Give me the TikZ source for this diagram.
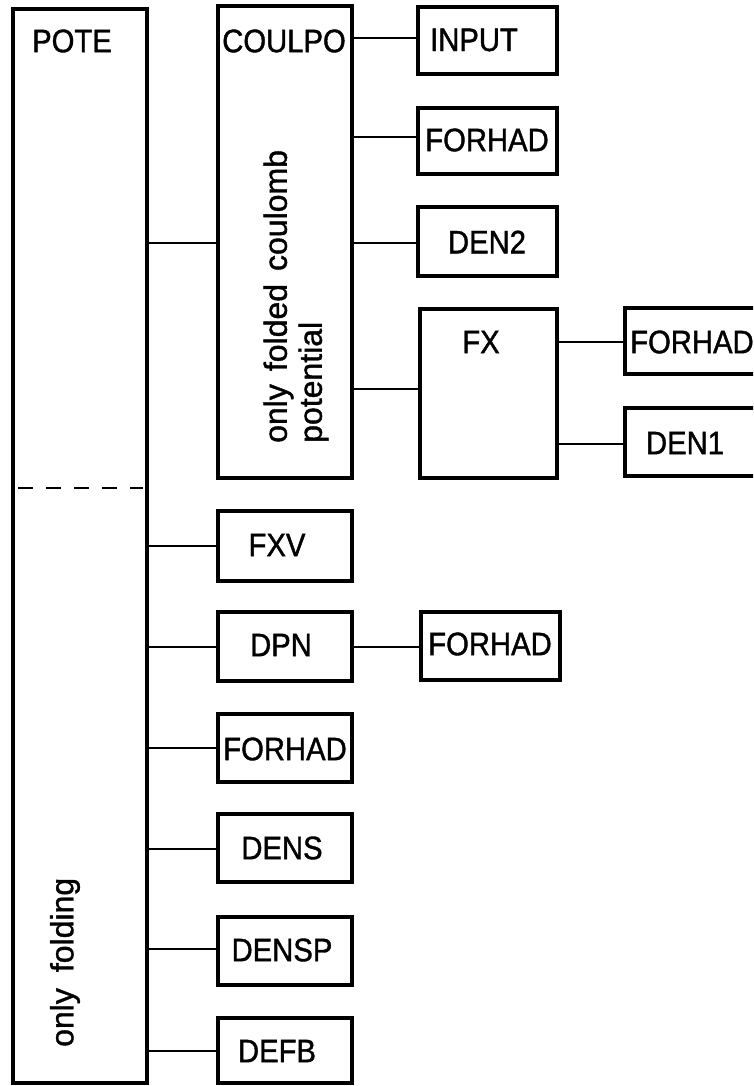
\documentclass[tikz,border=0pt]{standalone}
\usepackage{fontspec}
\setmainfont{Liberation Sans}[FakeBold=1.2]
\newfontfamily\labfont{Liberation Sans}[FakeStretch=0.9,FakeBold=1.2]
\begin{document}
\begin{tikzpicture}[x=1pt,y=-1pt,
  box/.style={draw, line width=3.3pt, rectangle, inner sep=0pt, outer sep=0pt},
  conn/.style={line width=2.8pt},
  lab/.style={inner sep=0pt, font=\labfont\fontsize{32.5}{35}\selectfont},
  rot/.style={inner sep=0pt, rotate=90, anchor=west, align=left, font=\fontsize{32}{35}\selectfont}]
\fill[white] (0,0) rectangle (753,1086);
\useasboundingbox (0,0) rectangle (753,1086);
\clip (0,0) rectangle (753,1086);

% boxes
\node[box, minimum width=134pt, minimum height=1074pt] (pote) at (80,546) {};
\node[box, minimum width=134pt, minimum height=472pt] (coulpo) at (285,242) {};
\node[box, minimum width=139pt, minimum height=67pt] (input) at (487.5,40.5) {};
\node[box, minimum width=139pt, minimum height=66pt] (forhadA) at (487.5,141) {};
\node[box, minimum width=139pt, minimum height=69pt] (den2) at (487.5,241.5) {};
\node[box, minimum width=137pt, minimum height=169pt] (fx) at (488.5,393.5) {};
\node[box, minimum width=140pt, minimum height=66pt] (forhadB) at (695,341) {};
\node[box, minimum width=140pt, minimum height=68pt] (den1) at (695,442) {};
\node[box, minimum width=134pt, minimum height=70pt] (fxv) at (285,546) {};
\node[box, minimum width=134pt, minimum height=69pt] (dpn) at (285,646.5) {};
\node[box, minimum width=139pt, minimum height=68pt] (forhadC) at (490.5,646) {};
\node[box, minimum width=134pt, minimum height=68pt] (forhadD) at (285,748) {};
\node[box, minimum width=134pt, minimum height=68pt] (dens) at (285,848) {};
\node[box, minimum width=134pt, minimum height=68pt] (densp) at (285,951) {};
\node[box, minimum width=134pt, minimum height=65pt] (defb) at (285,1050.5) {};

% labels
\node[lab] (tpote) at (72,41) {POTE};
\node[lab] (tcoulpo) at (284,41) {COULPO};
\node[lab] (tinput) at (474,40) {INPUT};
\node[lab] (tforhadA) at (487,140) {FORHAD};
\node[lab] (tden2) at (487,242) {DEN2};
\node[lab] (tfx) at (481,342) {FX};
\node[lab, anchor=west] (tforhadB) at (630,342) {FORHAD};
\node[lab] (tden1) at (685,443) {DEN1};
\node[lab] (tfxv) at (277,545) {FXV};
\node[lab] (tdpn) at (281,645) {DPN};
\node[lab] (tforhadC) at (490,644) {FORHAD};
\node[lab] (tforhadD) at (285,749) {FORHAD};
\node[lab] (tdens) at (282,848) {DENS};
\node[lab] (tdensp) at (282,950) {DENSP};
\node[lab] (tdefb) at (277,1051) {DEFB};
\node[rot] (tcoul) at (296,443) {only\hspace{13pt}folded\hspace{13pt}coulomb\\potential};
\node[rot] (tfold) at (65,1047) {only\hspace{16pt}folding};

% dashed separator
\draw[conn, dash pattern=on 15pt off 13pt, shorten <=5pt, shorten >=4pt]
  (pote.west |- 0,488) -- (pote.east |- 0,488);

% connectors
\draw[conn] (pote.east |- 0,243) -- (coulpo.west |- 0,243);
\draw[conn] (coulpo.east |- 0,38) -- (input.west |- 0,38);
\draw[conn] (coulpo.east |- 0,137) -- (forhadA.west |- 0,137);
\draw[conn] (coulpo.east |- 0,243) -- (den2.west |- 0,243);
\draw[conn] (coulpo.east |- 0,389) -- (fx.west |- 0,389);
\draw[conn] (fx.east |- 0,342) -- (forhadB.west |- 0,342);
\draw[conn] (fx.east |- 0,444) -- (den1.west |- 0,444);
\draw[conn] (pote.east |- 0,546) -- (fxv.west |- 0,546);
\draw[conn] (pote.east |- 0,647) -- (dpn.west |- 0,647);
\draw[conn] (dpn.east |- 0,647) -- (forhadC.west |- 0,647);
\draw[conn] (pote.east |- 0,748) -- (forhadD.west |- 0,748);
\draw[conn] (pote.east |- 0,849) -- (dens.west |- 0,849);
\draw[conn] (pote.east |- 0,949) -- (densp.west |- 0,949);
\draw[conn] (pote.east |- 0,1051) -- (defb.west |- 0,1051);
\end{tikzpicture}
\end{document}
